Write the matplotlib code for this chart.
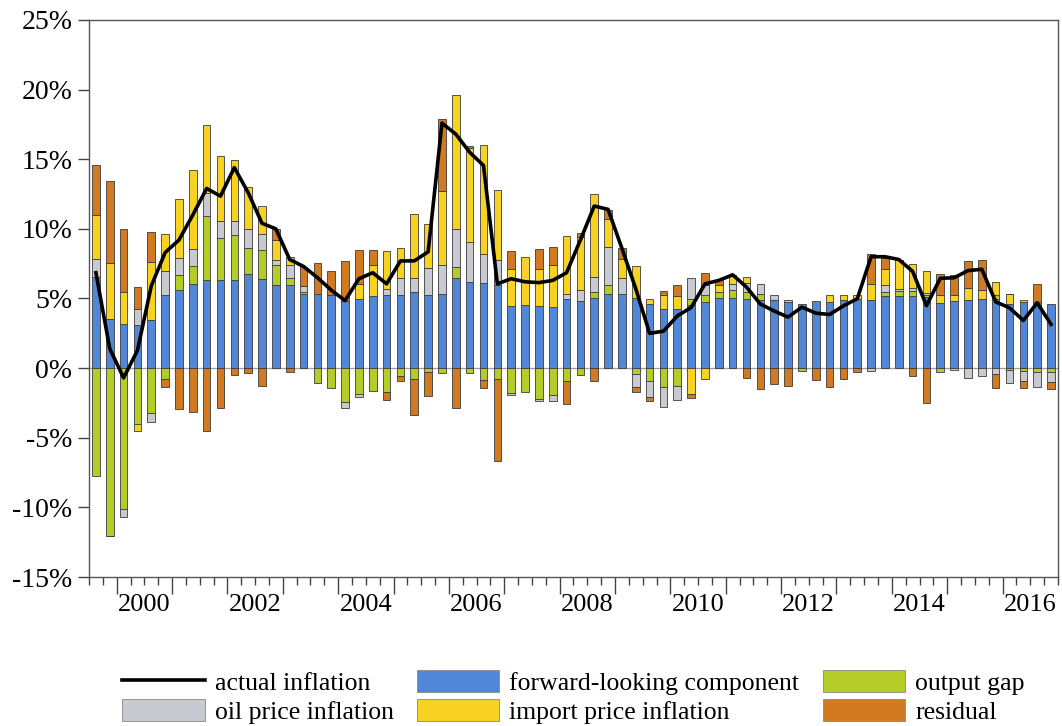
import numpy as np
import matplotlib
matplotlib.use("Agg")
import matplotlib.pyplot as plt
from matplotlib.patches import Patch
from matplotlib.lines import Line2D

plt.rcParams['font.family'] = ['Liberation Serif', 'DejaVu Serif']

# quarterly sample starts in 1999Q3
start_year = 1999
start_quarter = 3

# contributions to inflation, percentage points
forward_looking = [
	6.54, 3.54, 3.18, 3.07, 3.47, 5.22, 5.63, 6.06, 6.30, 6.30,
	6.35, 6.78, 6.42, 5.94, 5.99, 5.34, 5.34, 5.27, 4.79, 4.98,
	5.17, 5.27, 5.22, 5.46, 5.27, 5.29, 6.47, 6.18, 6.11, 5.94,
	4.43, 4.55, 4.43, 4.38, 4.98, 4.81, 5.05, 5.29, 5.34, 5.05,
	4.62, 4.26, 4.26, 4.50, 4.74, 5.05, 5.05, 4.98, 4.91, 4.86,
	4.74, 4.62, 4.79, 4.74, 4.91, 4.98, 4.86, 5.15, 5.15, 5.17,
	5.10, 4.69, 4.81, 4.86, 4.93, 4.98, 4.62, 4.74, 4.74, 4.62,
]
output_gap = [
	-7.71, -12.02, -10.15, -4.00, -3.23, -0.81, 1.03, 1.24, 4.62, 3.06,
	3.18, 1.84, 2.08, 1.44, 0.50, 0.12, -1.08, -1.44, -2.44, -1.84,
	-1.65, -1.72, -0.60, -0.77, -0.29, -0.34, 0.79, -0.34, -0.84, -0.81,
	-1.77, -1.72, -2.20, -1.92, -0.89, -0.48, 0.41, 0.70, 0.00, -0.41,
	-0.96, -1.32, -1.25, 0.48, 0.53, 0.45, 0.53, 0.48, 0.43, 0.00,
	0.00, -0.24, 0.00, 0.00, 0.00, 0.00, 0.00, 0.31, 0.38, 0.34,
	0.17, -0.29, 0.00, 0.00, 0.00, 0.24, -0.17, -0.22, -0.29, -0.29,
]
oil_price = [
	1.31, -0.05, -0.57, 1.20, -0.65, 1.72, 1.27, 1.22, 1.68, 1.17,
	1.01, 1.34, 1.15, 0.41, 0.89, 0.41, 0.00, 0.00, -0.43, -0.24,
	0.00, 0.38, 1.25, 1.01, 1.91, 2.13, 2.75, 2.87, 2.10, 1.80,
	-0.19, 0.00, -0.17, -0.45, 0.36, 0.77, 1.08, 2.70, 1.13, -0.91,
	-1.12, -1.48, -1.02, 1.51, 0.72, 0.00, 0.48, 0.65, 0.72, 0.36,
	0.17, 0.00, 0.00, 0.00, 0.00, 0.00, -0.19, 0.53, 0.17, 0.26,
	0.10, 0.00, -0.17, -0.69, -0.60, -0.41, -0.91, -0.74, -1.03, -0.72,
]
import_price = [
	3.16, 4.00, 2.28, -0.55, 4.14, 2.71, 4.23, 5.73, 4.83, 4.67,
	4.38, 3.04, 1.99, 1.44, 0.60, 0.00, 0.00, 0.00, 0.00, 1.03,
	2.20, 2.75, 2.15, 4.57, 3.19, 5.27, 9.63, 6.75, 7.78, 5.03,
	2.71, 3.42, 2.71, 3.04, 4.14, 3.83, 5.98, 2.04, 1.38, 2.25,
	0.31, 1.01, 0.89, -1.84, -0.81, 0.50, 0.60, 0.43, 0.00, 0.00,
	0.00, 0.00, 0.00, 0.48, 0.31, 0.29, 1.20, 1.15, 2.05, 1.68,
	1.60, 0.53, 0.41, 0.91, 0.70, 0.96, 0.67, 0.12, 0.00, 0.00,
]
residual = [
	3.55, 5.89, 4.55, 1.56, 2.16, -0.55, -2.92, -3.16, -4.53, -2.87,
	-0.48, -0.34, -1.25, 0.74, -0.29, 1.39, 2.23, 1.67, 2.90, 2.49,
	1.13, -0.60, -0.33, -2.58, -1.72, 5.22, -2.85, 0.12, -0.60, -5.89,
	1.27, 0.00, 1.38, 1.27, -1.67, 0.31, -0.89, 0.64, 0.77, -0.36,
	-0.31, 0.24, 0.84, -0.31, 0.86, 0.30, 0.00, -0.72, -1.48, -1.13,
	-1.25, 0.00, -0.84, -1.37, -0.77, -0.29, 2.11, 0.79, 0.00, -0.53,
	-2.51, 1.56, 1.44, 1.92, 2.10, -1.00, 0.05, -0.48, 1.27, -0.47,
]
actual_inflation = [
	6.85, 1.40, -0.70, 1.27, 5.90, 8.30, 9.20, 11.00, 12.90, 12.35,
	14.40, 12.60, 10.40, 10.00, 7.80, 7.30, 6.50, 5.60, 4.85, 6.42,
	6.85, 6.05, 7.70, 7.70, 8.35, 17.60, 16.80, 15.50, 14.55, 6.05,
	6.42, 6.20, 6.14, 6.30, 6.85, 9.20, 11.64, 11.40, 8.60, 5.70,
	2.50, 2.65, 3.75, 4.35, 6.05, 6.30, 6.70, 5.82, 4.60, 4.10,
	3.66, 4.38, 3.95, 3.85, 4.47, 4.98, 8.00, 8.00, 7.80, 6.95,
	4.48, 6.45, 6.49, 7.00, 7.10, 4.76, 4.33, 3.42, 4.69, 3.14,
]

year_labels = [2000, 2002, 2004, 2006, 2008, 2010, 2012, 2014, 2016]
y_ticks = [-15, -10, -5, 0, 5, 10, 15, 20, 25]

components = [
	("forward-looking component", forward_looking, "#5187D6"),
	("output gap", output_gap, "#B4CC28"),
	("oil price inflation", oil_price, "#C9C9D1"),
	("import price inflation", import_price, "#F7D222"),
	("residual", residual, "#D17A22"),
]


def plot_decomposition(out_file):
	n = len(actual_inflation)
	x = np.arange(n)
	quarters = [(start_quarter - 1 + i) % 4 + 1 for i in range(n)]
	years = [start_year + (start_quarter - 1 + i) // 4 for i in range(n)]

	fig = plt.figure(figsize=(10.62, 7.26), dpi=100)
	ax = fig.add_axes([0.0838, 0.2052, 0.9124, 0.7673])

	ax.axhline(0, color="#a0a0a0", linewidth=1.0, zorder=1)

	# stack positive and negative contributions separately
	pos_bottom = np.zeros(n)
	neg_bottom = np.zeros(n)
	for name, vals, color in components:
		vals = np.array(vals)
		pos = np.clip(vals, 0, None)
		neg = np.clip(vals, None, 0)
		m = pos > 0
		ax.bar(x[m], pos[m], bottom=pos_bottom[m], width=0.55, color=color,
			edgecolor="#3c3c3c", linewidth=0.6, zorder=2)
		m = neg < 0
		ax.bar(x[m], neg[m], bottom=neg_bottom[m], width=0.55, color=color,
			edgecolor="#3c3c3c", linewidth=0.6, zorder=2)
		pos_bottom += pos
		neg_bottom += neg

	ax.plot(x, actual_inflation, color="black", linewidth=2.6, zorder=5)

	ax.set_xlim(-0.5, n - 0.5)
	ax.set_ylim(y_ticks[0], y_ticks[-1])
	ax.set_yticks(y_ticks)
	ax.set_yticklabels([f"{v}%" for v in y_ticks], fontsize=20)

	# long ticks at year boundaries, short ticks at quarter boundaries
	year_starts = [i - 0.5 for i in range(n) if quarters[i] == 1]
	ax.set_xticks(year_starts)
	ax.set_xticklabels([])
	ax.set_xticks(np.arange(n + 1) - 0.5, minor=True)
	ax.tick_params(axis="x", which="major", length=12, width=1.0, color="#444444")
	ax.tick_params(axis="x", which="minor", length=6, width=1.0, color="#444444")
	ax.tick_params(axis="y", length=8, width=1.0, color="#444444", pad=4)

	# year labels centred under each labelled year
	centers = [years.index(y) + (4 - quarters[years.index(y)]) / 2 for y in year_labels]
	sec = ax.secondary_xaxis("bottom")
	sec.set_xticks(centers)
	sec.set_xticklabels([str(y) for y in year_labels], fontsize=19)
	sec.tick_params(length=0, pad=12)
	sec.spines["bottom"].set_visible(False)

	for s in ax.spines.values():
		s.set_color("#555555")
		s.set_linewidth(1.0)

	handles = [
		Line2D([], [], color="black", linewidth=2.6),
		Patch(facecolor=components[2][2], edgecolor="#888888", linewidth=0.6),
		Patch(facecolor=components[0][2], edgecolor="#888888", linewidth=0.6),
		Patch(facecolor=components[3][2], edgecolor="#888888", linewidth=0.6),
		Patch(facecolor=components[1][2], edgecolor="#888888", linewidth=0.6),
		Patch(facecolor=components[4][2], edgecolor="#888888", linewidth=0.6),
	]
	labels = ["actual inflation", "oil price inflation", "forward-looking component",
		"import price inflation", "output gap", "residual"]
	fig.legend(handles, labels, loc="center", bbox_to_anchor=(0.54, 0.04), ncol=3,
		frameon=False, fontsize=18.5, handlelength=3.2, handleheight=0.95,
		handletextpad=0.4, columnspacing=0.9, labelspacing=0.15)

	fig.savefig(out_file, dpi=100)
	plt.close(fig)


plot_decomposition("out.png")
